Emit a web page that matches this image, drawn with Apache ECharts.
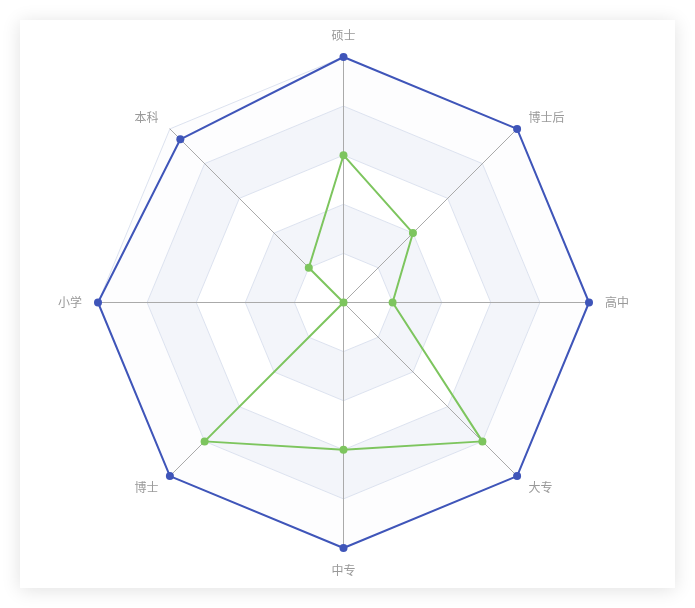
<!DOCTYPE html>
<html><head><meta charset="utf-8">
<script src="https://cdn.jsdelivr.net/npm/echarts@6/dist/echarts.min.js"></script>
<style>
html,body{margin:0;padding:0;background:#ffffff;width:695px;height:608px;overflow:hidden;}
#card{position:absolute;left:20px;top:20px;width:655px;height:568px;background:#fff;box-shadow:0 2px 18px rgba(0,0,0,0.12);}
#chart{width:655px;height:568px;}
</style></head>
<body><div id="card"><div id="chart"></div></div>
<script>
const indicators = ['硕士','本科','小学','博士','中专','大专','高中','博士后'];
const maxValue = 100;
const seriesBlue = [100,94,100,100,100,100,100,100];
const seriesGreen = [60,20,0,80,60,80,20,40];

const chart = echarts.init(document.getElementById('chart'));
chart.setOption({
  radar: {
    center: [323.5, 282.5],
    radius: 245.5,
    shape: 'polygon',
    splitNumber: 5,
    nameGap: 16,
    axisName: { color: '#999', fontSize: 12, fontFamily: '"Noto Sans CJK SC", sans-serif' },
    indicator: indicators.map(n => ({ name: n, max: maxValue, min: 0 })),
    axisLine: { lineStyle: { color: '#aaaaaa', width: 1 } },
    splitLine: { lineStyle: { color: '#dce2ef', width: 1 } },
    splitArea: { areaStyle: { color: ['#ffffff', '#f3f5fa', '#ffffff', '#f3f5fa', '#fdfdfe'] } }
  },
  series: [{
    type: 'radar',
    symbol: 'circle',
    symbolSize: 8,
    data: [
      { value: seriesBlue, lineStyle: { color: '#3f55b9', width: 2 }, itemStyle: { color: '#3f55b9' } },
      { value: seriesGreen, lineStyle: { color: '#7dc55e', width: 2 }, itemStyle: { color: '#7dc55e' } }
    ]
  }]
});
</script></body></html>
